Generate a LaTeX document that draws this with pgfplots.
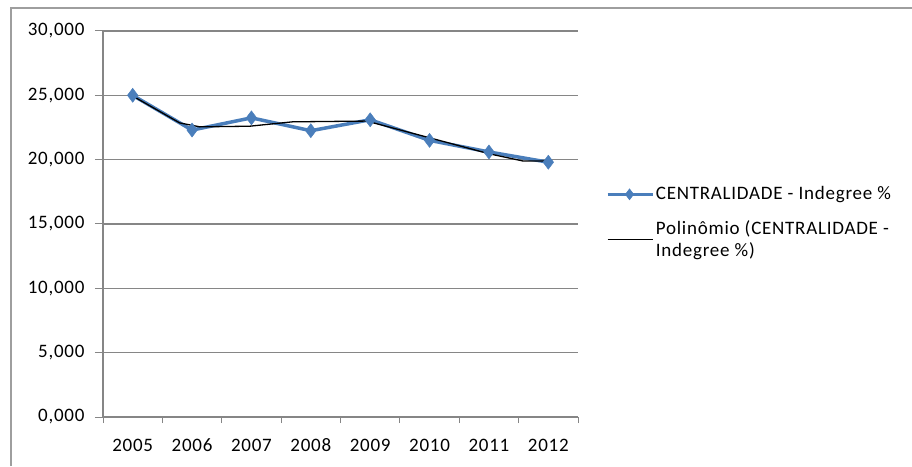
\documentclass[border=0pt]{standalone}
\usepackage{fontspec}
\setmainfont{Carlito}[LetterSpace=4]
\usepackage{pgfplots}
\pgfplotsset{compat=1.18}
\definecolor{serieblue}{HTML}{4A7EBB}
\definecolor{gridgray}{HTML}{868686}
\begin{document}
\fontsize{19}{22}\selectfont
\begin{tikzpicture}[x=1pt,y=1pt]
\useasboundingbox (0,0) rectangle (912,466);
% chart frame (top and left edges visible)
\draw[gridgray!80, line width=1.5pt] (11,0) -- (11,458) -- (912,458);
\begin{axis}[
  at={(103pt,49pt)}, anchor=south west,
  scale only axis, width=475pt, height=386pt,
  xmin=-0.5, xmax=7.5, ymin=0, ymax=30,
  axis lines=left,
  axis line style={gridgray, line width=1.3pt, -},
  tick align=outside,
  xtick={0,1,2,3,4,5,6,7},
  xticklabels={2005,2006,2007,2008,2009,2010,2011,2012},
  major x tick style={draw=none},
  minor xtick={-0.5,0.5,1.5,2.5,3.5,4.5,5.5,6.5,7.5},
  minor tick length=6pt,
  minor x tick style={gridgray, line width=1pt},
  major tick length=8pt,
  ytick={0,5,10,15,20,25,30},
  y tick style={gridgray, line width=1pt},
  ymajorgrids,
  grid style={gridgray, line width=1.3pt},
  /pgf/number format/fixed,
  /pgf/number format/fixed zerofill,
  /pgf/number format/precision=3,
  /pgf/number format/use comma,
  /pgf/number format/assume math mode=true,
  tick label style={font=\fontsize{19}{22}\selectfont},
  xticklabel style={anchor=north, text height=13pt, text depth=0pt, yshift=-7pt},
  yticklabel style={xshift=-4pt},
  legend style={at={(axis cs:7.97,15.1)}, anchor=west, draw=none, fill=none,
    cells={anchor=west, align=left}, row sep=14pt, inner sep=0pt,
    font=\fontsize{19}{22}\selectfont},
  legend image code/.code={%
    \draw[mark repeat=2, mark phase=2, #1] plot coordinates {(0pt,0pt) (22pt,0pt) (45pt,0pt)};},
  clip=false,
]
% CENTRALIDADE - Indegree %
\addplot[serieblue, line width=3.5pt, mark=diamond*, mark size=7pt,
  mark options={solid, fill=serieblue, line width=0.5pt},
  legend image post style={line width=2.8pt, mark size=5.5pt}]
  coordinates {(0,25.0) (1,22.3) (2,23.25) (3,22.25) (4,23.1) (5,21.5) (6,20.6) (7,19.8)};
\addlegendentry{CENTRALIDADE - Indegree \%}
% polynomial trend line
\addplot[black, line width=1.3pt]
  coordinates {(0,24.95) (0.79,22.86) (1.13,22.55) (1.97,22.6) (2.69,22.94) (3.94,23.0) (5,21.7) (6.01,20.45) (6.57,19.9) (7,19.9)};
\addlegendentry{Polinômio (CENTRALIDADE -\\Indegree \%)}
\end{axis}
\end{tikzpicture}
\end{document}
